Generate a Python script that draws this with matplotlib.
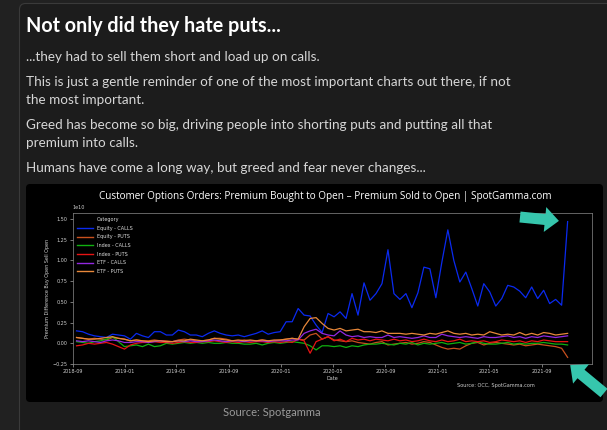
import numpy as np
import pandas as pd
import matplotlib
matplotlib.use("Agg")
import matplotlib.pyplot as plt
import matplotlib.dates as mdates
from matplotlib.patches import FancyBboxPatch, FancyArrow

# biweekly sampling of the SpotGamma series, values in billions of dollars
dates = pd.date_range("2018-09-10", periods=83, freq="14D")

equity_calls = [1.5, 1.4, 1.1, 0.9, 0.8, 0.7, 1.1, 1.0, 0.9,
                0.5, 1.2, 0.9, 0.7, 1.4, 1.4, 1.0, 1.0, 1.6,
                1.4, 1.0, 1.0, 0.8, 1.2, 1.5, 1.2, 1.0, 0.9,
                1.0, 0.8, 1.0, 1.2, 1.5, 1.1, 1.3, 1.4,
                2.6, 2.6, 4.2, 3.4, 3.3, 2.2, 1.3, 3.6, 3.2, 3.8,
                3.0, 6.0, 3.4, 7.3, 5.2, 6.0, 7.2, 11.3, 6.0, 5.3, 6.0,
                4.3, 6.1, 9.2, 9.0, 5.5, 9.8, 13.7, 10.0, 7.4, 8.6, 6.6,
                4.5, 7.2, 6.2, 4.5, 5.4, 7.0, 6.8, 6.3, 5.5, 6.8,
                5.4, 6.4, 4.8, 5.3, 4.6, 14.7]

equity_puts = [0.7, 0.6, 0.5, 0.6, 0.5, 0.4, 0.7, 0.6, 0.5,
               0.3, 0.4, 0.3, 0.3, 0.4, 0.3, 0.3, 0.2, 0.4,
               0.5, 0.4, 0.3, 0.3, 0.4, 0.6, 0.6, 0.5, 0.3,
               0.3, 0.4, 0.3, 0.3, 0.4, 0.3, 0.3, 0.4,
               0.5, 0.6, 0.5, 0.4, 1.0, 1.2, 0.5, 0.8, 0.4, 0.3,
               0.2, 0.3, 0.1, 0.0, -0.1, 0.1, 0.2, -0.2, -0.1, 0.0, 0.1,
               -0.1, 0.0, 0.2, 0.1, -0.2, -0.5, -0.7, -0.6, -0.7, -0.3, 0.0,
               0.1, -0.2, 0.0, 0.1, 0.0, -0.1, -0.2, -0.1, -0.3, -0.2,
               -0.1, -0.2, -0.3, -0.4, -0.6, -1.7]

index_calls = [0.2, 0.1, 0.0, 0.2, 0.3, 0.5, 0.8, 0.2, -0.4,
               -0.3, -0.2, -0.4, -0.1, -0.4, -0.3, 0.0, -0.1, 0.0,
               0.1, 0.0, 0.1, 0.0, 0.1, 0.0, 0.0, 0.1, 0.0,
               0.0, -0.1, -0.1, 0.0, -0.2, 0.0, 0.1, 0.0,
               0.1, 0.2, 0.1, 0.0, -0.3, -0.8, -0.3, -0.3, -0.4, -0.3,
               -0.5, -0.3, -0.4, -0.2, -0.1, -0.1, 0.0, -0.1, -0.2, 0.0, -0.1,
               0.1, -0.2, 0.0, -0.1, 0.0, 0.1, -0.1, 0.0, 0.1, -0.1, 0.0,
               0.2, 0.0, -0.1, -0.1, 0.0, 0.1, -0.1, 0.0, -0.1, 0.0,
               0.0, 0.1, 0.0, -0.1, -0.1, -0.2]

index_puts = [-0.3, -0.2, 0.0, -0.1, 0.0, 0.1, -0.1, -0.4, -0.7,
              -0.2, 0.0, 0.1, 0.1, 0.2, 0.1, 0.1, 0.0, 0.1,
              0.2, 0.1, 0.1, 0.2, 0.2, 0.3, 0.2, 0.1, 0.2,
              0.1, 0.2, 0.1, 0.2, 0.2, 0.1, 0.2, 0.1,
              0.2, 0.1, 0.5, 0.3, -1.2, 0.2, 0.5, 0.8, 0.3, 0.5,
              0.2, 0.6, 0.4, 0.5, 0.3, 0.5, 0.4, 0.3, 0.5, 0.3, 0.4,
              0.2, 0.3, 0.5, 0.3, 0.2, 0.4, 0.2, 0.3, 0.5, 0.2, 0.3,
              0.2, 0.3, 0.1, 0.2, 0.4, 0.3, 0.2, 0.3, 0.1, 0.3,
              0.2, 0.4, 0.3, 0.2, 0.2, 0.2]

etf_calls = [0.3, 0.2, 0.3, 0.2, 0.1, 0.3, 0.4, 0.3, 0.1,
             0.1, 0.2, 0.2, 0.1, 0.2, 0.3, 0.2, 0.2, 0.3,
             0.2, 0.3, 0.2, 0.2, 0.3, 0.4, 0.3, 0.2, 0.3,
             0.3, 0.2, 0.3, 0.3, 0.3, 0.2, 0.3, 0.3,
             0.3, 0.4, 0.4, 1.2, 1.5, 1.7, 1.2, 1.0, 0.9, 1.5,
             1.0, 0.8, 0.9, 0.7, 0.8, 0.7, 0.7, 1.0, 0.7, 0.8, 0.7,
             0.6, 0.7, 0.9, 0.7, 0.7, 1.1, 0.9, 0.8, 0.7, 0.8, 0.7,
             0.6, 0.8, 0.7, 0.7, 0.8, 0.9, 0.7, 0.8, 0.6, 0.8,
             0.7, 0.9, 0.8, 0.7, 0.8, 0.9]

etf_puts = [0.7, 0.6, 0.5, 0.5, 0.6, 0.7, 0.8, 0.6, 0.5,
            0.3, 0.4, 0.3, 0.2, 0.3, 0.3, 0.2, 0.2, 0.3,
            0.3, 0.5, 0.4, 0.3, 0.4, 0.6, 0.5, 0.4, 0.3,
            0.4, 0.3, 0.4, 0.3, 0.4, 0.3, 0.4, 0.4,
            0.5, 0.6, 0.5, 2.0, 3.0, 3.1, 2.4, 1.8, 1.6, 1.8,
            1.5, 1.6, 1.7, 1.4, 1.4, 1.3, 1.5, 1.2, 1.2, 1.2, 1.1,
            1.2, 1.1, 1.0, 1.2, 1.1, 1.3, 1.5, 1.2, 1.1, 1.2, 1.0,
            1.1, 1.0, 1.4, 1.2, 1.0, 1.1, 1.0, 1.3, 1.0, 1.2,
            1.0, 1.3, 1.2, 1.0, 1.1, 1.2]

labels = ["Equity - CALLS", "Equity - PUTS", "Index - CALLS",
          "Index - PUTS", "ETF - CALLS", "ETF - PUTS"]
colors = ["#0a2af0", "#c8501e", "#10b010", "#e61414", "#9228e0", "#e8883a"]
series = [equity_calls, equity_puts, index_calls, index_puts, etf_calls, etf_puts]

W, H = 607, 430
fig = plt.figure(figsize=(W / 100, H / 100), dpi=100)
fig.patch.set_facecolor("#212121")

# page background, drawn in pixel coordinates
bg = fig.add_axes([0, 0, 1, 1])
bg.set_xlim(0, W)
bg.set_ylim(H, 0)
bg.axis("off")

bg.add_patch(FancyBboxPatch((19.5, 3.5), 620, 460, boxstyle="round,pad=0,rounding_size=6",
                            fc="#1c1c1c", ec="#3a3a3a", lw=0.8))
bg.add_patch(FancyBboxPatch((26, 184), 577, 218, boxstyle="round,pad=0,rounding_size=4",
                            fc="black", ec="none"))

bg.text(26, 26, "Not only did they hate puts...", fontsize=14.2, fontweight="bold",
        color="white", family="Lato", va="center")
body = [(57, "...they had to sell them short and load up on calls."),
        (82, "This is just a gentle reminder of one of the most important charts out there, if not"),
        (100, "the most important."),
        (125, "Greed has become so big, driving people into shorting puts and putting all that"),
        (143, "premium into calls."),
        (168, "Humans have come a long way, but greed and fear never changes...")]
for y, t in body:
    bg.text(26, y, t, fontsize=9.75, color="#d6d6d6", family="Lato", va="center")

bg.text(272, 412, "Source: Spotgamma", fontsize=8, color="#9a9a9a",
        family="Lato", ha="center", va="center")

bg.text(325, 197, "Customer Options Orders: Premium Bought to Open \u2013 Premium Sold to Open | SpotGamma.com",
        fontsize=7.2, color="white", family="Open Sans", ha="center", va="center")
bg.text(457, 385, "Source: OCC, SpotGamma.com", fontsize=3.6, color="#cccccc", va="center")

# the chart itself
left, right, top, bottom = 72.7, 592, 213.3, 364
ax = fig.add_axes([left / W, 1 - bottom / H, (right - left) / W, (bottom - top) / H])
ax.set_facecolor("black")

ax.plot([], [], color="none", label="Category")
for vals, lab, col in zip(series, labels, colors):
    ax.plot(dates, np.array(vals) * 1e9, color=col, lw=0.9, label=lab)

ax.set_xlim(pd.Timestamp("2018-09-01"), pd.Timestamp("2021-12-28"))
ax.set_ylim(-0.25e10, 1.57e10)
ax.set_yticks(np.arange(-0.25, 1.51, 0.25) * 1e10)
ax.xaxis.set_major_locator(mdates.MonthLocator(bymonth=[1, 5, 9]))
ax.xaxis.set_major_formatter(mdates.DateFormatter("%Y-%m"))

for s in ax.spines.values():
    s.set_color("#8a8a8a")
    s.set_linewidth(0.5)
ax.tick_params(colors="#cfcfcf", labelsize=3.5, length=2, width=0.4, pad=1.5)
ax.yaxis.get_offset_text().set_fontsize(3.5)
ax.yaxis.get_offset_text().set_color("#cfcfcf")
ax.set_xlabel("Date", fontsize=3.5, color="#cfcfcf", labelpad=1.5)
ax.set_ylabel("Premium Difference Buy Open Sell Open", fontsize=3.5, color="#cfcfcf", labelpad=2)

leg = ax.legend(loc="upper left", frameon=False, fontsize=3.5, labelcolor="#dddddd",
                handlelength=3.3, labelspacing=0.75, borderaxespad=0.4)
for h in leg.get_lines():
    h.set_linewidth(1.0)

# teal call-out arrows on top of everything
ov = fig.add_axes([0, 0, 1, 1], zorder=10)
ov.set_xlim(0, W)
ov.set_ylim(H, 0)
ov.axis("off")
teal = "#36c6ad"
ov.add_patch(FancyArrow(520, 217, 25, 2.5, width=11, head_width=25, head_length=14,
                        length_includes_head=False, fc=teal, ec="none"))
ov.add_patch(FancyArrow(604, 393, -23, -19, width=11, head_width=25, head_length=14,
                        length_includes_head=False, fc=teal, ec="none"))

fig.savefig("out.png", dpi=100, facecolor=fig.get_facecolor())
